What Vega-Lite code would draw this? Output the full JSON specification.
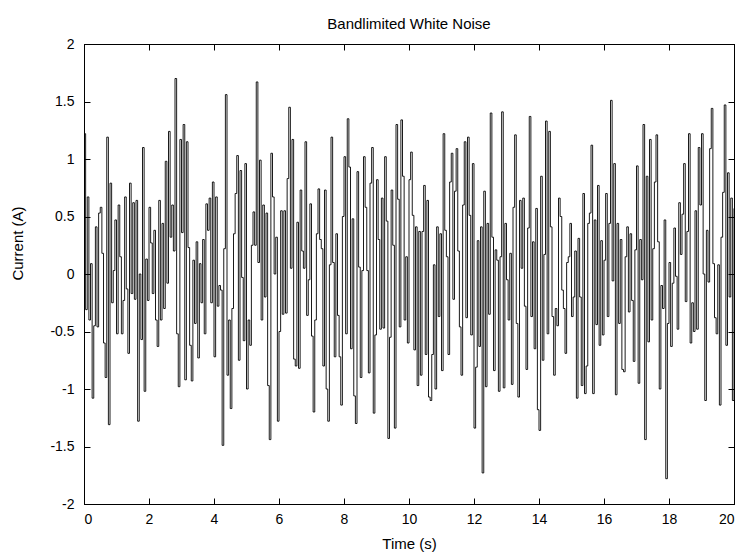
{
"$schema": "https://vega.github.io/schema/vega-lite/v6.json",
"width": 650, "height": 460,
"autosize": "none",
"padding": {"left": 84, "top": 44, "right": 10, "bottom": 48},
"background": "white",
"config": {
  "view": {"stroke": "black", "strokeWidth": 1},
  "font": "Liberation Sans",
  "axis": {"domainColor": "black", "tickColor": "black", "labelColor": "black", "titleColor": "black", "grid": false, "labelFont": "Liberation Sans", "titleFont": "Liberation Sans", "labelFontSize": 14, "titleFontSize": 15, "titleFontWeight": "normal", "tickSize": -6, "domainWidth": 1, "tickWidth": 1}
},
"title": {"text": "Bandlimited White Noise", "font": "Liberation Sans", "fontSize": 15, "fontWeight": "normal", "color": "black", "anchor": "middle", "offset": 15, "dy": 22, "baseline": "alphabetic"},
"data": {"values": [
{"t":0,"v":1.22},{"t":0.05,"v":-0.31},{"t":0.1,"v":0.67},{"t":0.15,"v":-0.40},{"t":0.2,"v":0.09},{"t":0.25,"v":-1.08},{"t":0.3,"v":-0.45},{"t":0.35,"v":0.41},{"t":0.4,"v":-0.46},{"t":0.45,"v":0.53},
{"t":0.5,"v":0.58},{"t":0.55,"v":0.18},{"t":0.6,"v":-0.60},{"t":0.65,"v":-0.90},{"t":0.7,"v":1.19},{"t":0.75,"v":-1.31},{"t":0.8,"v":0.79},{"t":0.85,"v":-0.25},{"t":0.9,"v":0.03},{"t":0.95,"v":0.47},
{"t":1,"v":-0.52},{"t":1.05,"v":0.60},{"t":1.1,"v":0.15},{"t":1.15,"v":-0.52},{"t":1.2,"v":-0.23},{"t":1.25,"v":0.67},{"t":1.3,"v":-0.13},{"t":1.35,"v":-0.69},{"t":1.4,"v":0.79},{"t":1.45,"v":-0.17},
{"t":1.5,"v":0.62},{"t":1.55,"v":-0.22},{"t":1.6,"v":0.64},{"t":1.65,"v":-1.28},{"t":1.7,"v":0.00},{"t":1.75,"v":-0.57},{"t":1.8,"v":1.10},{"t":1.85,"v":-1.02},{"t":1.9,"v":0.13},{"t":1.95,"v":-0.23},
{"t":2,"v":0.58},{"t":2.05,"v":0.27},{"t":2.1,"v":-0.17},{"t":2.15,"v":0.38},{"t":2.2,"v":-0.40},{"t":2.25,"v":-0.63},{"t":2.3,"v":0.64},{"t":2.35,"v":-0.40},{"t":2.4,"v":0.44},{"t":2.45,"v":-0.30},
{"t":2.5,"v":0.98},{"t":2.55,"v":-0.08},{"t":2.6,"v":1.24},{"t":2.65,"v":0.32},{"t":2.7,"v":0.60},{"t":2.75,"v":0.20},{"t":2.8,"v":1.70},{"t":2.85,"v":-0.52},{"t":2.9,"v":-0.98},{"t":2.95,"v":1.17},
{"t":3,"v":0.36},{"t":3.05,"v":1.30},{"t":3.1,"v":-0.92},{"t":3.15,"v":1.15},{"t":3.2,"v":0.23},{"t":3.25,"v":-0.62},{"t":3.3,"v":-0.93},{"t":3.35,"v":0.12},{"t":3.4,"v":-0.43},{"t":3.45,"v":0.28},
{"t":3.5,"v":-0.73},{"t":3.55,"v":0.09},{"t":3.6,"v":-0.25},{"t":3.65,"v":0.30},{"t":3.7,"v":-0.52},{"t":3.75,"v":0.61},{"t":3.8,"v":0.38},{"t":3.85,"v":0.66},{"t":3.9,"v":-0.25},{"t":3.95,"v":0.80},
{"t":4,"v":-0.72},{"t":4.05,"v":0.67},{"t":4.1,"v":-0.28},{"t":4.15,"v":-0.10},{"t":4.2,"v":-0.14},{"t":4.25,"v":-1.49},{"t":4.3,"v":0.22},{"t":4.35,"v":1.56},{"t":4.4,"v":-0.88},{"t":4.45,"v":-0.40},
{"t":4.5,"v":-1.17},{"t":4.55,"v":-0.30},{"t":4.6,"v":0.35},{"t":4.65,"v":0.70},{"t":4.7,"v":1.03},{"t":4.75,"v":-0.75},{"t":4.8,"v":0.90},{"t":4.85,"v":-0.03},{"t":4.9,"v":-0.58},{"t":4.95,"v":0.96},
{"t":5,"v":-1.00},{"t":5.05,"v":-0.40},{"t":5.1,"v":-0.62},{"t":5.15,"v":0.25},{"t":5.2,"v":0.54},{"t":5.25,"v":0.25},{"t":5.3,"v":1.67},{"t":5.35,"v":0.10},{"t":5.4,"v":0.99},{"t":5.45,"v":-0.40},
{"t":5.5,"v":0.60},{"t":5.55,"v":-0.20},{"t":5.6,"v":0.53},{"t":5.65,"v":-0.97},{"t":5.7,"v":-1.44},{"t":5.75,"v":1.05},{"t":5.8,"v":0.67},{"t":5.85,"v":0.00},{"t":5.9,"v":0.32},{"t":5.95,"v":-1.28},
{"t":6,"v":-0.50},{"t":6.05,"v":0.55},{"t":6.1,"v":-0.35},{"t":6.15,"v":0.55},{"t":6.2,"v":-0.34},{"t":6.25,"v":0.83},{"t":6.3,"v":1.45},{"t":6.35,"v":0.05},{"t":6.4,"v":1.17},{"t":6.45,"v":-0.74},
{"t":6.5,"v":-0.80},{"t":6.55,"v":0.45},{"t":6.6,"v":-0.82},{"t":6.65,"v":0.73},{"t":6.7,"v":0.20},{"t":6.75,"v":0.05},{"t":6.8,"v":1.15},{"t":6.85,"v":-0.36},{"t":6.9,"v":-0.05},{"t":6.95,"v":0.61},
{"t":7,"v":-0.54},{"t":7.05,"v":-1.20},{"t":7.1,"v":-0.40},{"t":7.15,"v":0.35},{"t":7.2,"v":0.74},{"t":7.25,"v":0.30},{"t":7.3,"v":0.22},{"t":7.35,"v":-0.80},{"t":7.4,"v":0.73},{"t":7.45,"v":-1.00},
{"t":7.5,"v":-1.28},{"t":7.55,"v":0.08},{"t":7.6,"v":1.19},{"t":7.65,"v":0.10},{"t":7.7,"v":-0.72},{"t":7.75,"v":0.35},{"t":7.8,"v":-0.36},{"t":7.85,"v":-0.72},{"t":7.9,"v":-1.14},{"t":7.95,"v":0.50},
{"t":8,"v":1.02},{"t":8.05,"v":-0.52},{"t":8.1,"v":1.35},{"t":8.15,"v":0.93},{"t":8.2,"v":-0.65},{"t":8.25,"v":0.48},{"t":8.3,"v":-1.06},{"t":8.35,"v":-1.30},{"t":8.4,"v":0.89},{"t":8.45,"v":0.06},
{"t":8.5,"v":-0.90},{"t":8.55,"v":0.03},{"t":8.6,"v":1.02},{"t":8.65,"v":0.58},{"t":8.7,"v":0.03},{"t":8.75,"v":-0.86},{"t":8.8,"v":0.79},{"t":8.85,"v":1.10},{"t":8.9,"v":-1.21},{"t":8.95,"v":-0.53},
{"t":9,"v":0.82},{"t":9.05,"v":0.30},{"t":9.1,"v":-0.48},{"t":9.15,"v":0.66},{"t":9.2,"v":-0.47},{"t":9.25,"v":1.02},{"t":9.3,"v":0.46},{"t":9.35,"v":-1.43},{"t":9.4,"v":-0.55},{"t":9.45,"v":0.73},
{"t":9.5,"v":0.25},{"t":9.55,"v":-1.34},{"t":9.6,"v":1.30},{"t":9.65,"v":0.65},{"t":9.7,"v":-0.46},{"t":9.75,"v":1.34},{"t":9.8,"v":0.85},{"t":9.85,"v":-0.40},{"t":9.9,"v":0.15},{"t":9.95,"v":-0.60},
{"t":10,"v":0.82},{"t":10.05,"v":1.06},{"t":10.1,"v":0.51},{"t":10.15,"v":-0.66},{"t":10.2,"v":0.41},{"t":10.25,"v":-0.97},{"t":10.3,"v":0.37},{"t":10.35,"v":-0.88},{"t":10.4,"v":0.37},{"t":10.45,"v":0.77},
{"t":10.5,"v":-0.70},{"t":10.55,"v":0.64},{"t":10.6,"v":-1.07},{"t":10.65,"v":-1.10},{"t":10.7,"v":-0.70},{"t":10.75,"v":0.08},{"t":10.8,"v":-1.00},{"t":10.85,"v":0.41},{"t":10.9,"v":-0.37},{"t":10.95,"v":0.35},
{"t":11,"v":-0.84},{"t":11.05,"v":1.22},{"t":11.1,"v":0.38},{"t":11.15,"v":0.15},{"t":11.2,"v":-0.70},{"t":11.25,"v":0.80},{"t":11.3,"v":1.05},{"t":11.35,"v":-0.22},{"t":11.4,"v":0.72},{"t":11.45,"v":1.09},
{"t":11.5,"v":0.20},{"t":11.55,"v":-0.46},{"t":11.6,"v":-0.88},{"t":11.65,"v":0.60},{"t":11.7,"v":1.15},{"t":11.75,"v":-0.38},{"t":11.8,"v":1.19},{"t":11.85,"v":0.51},{"t":11.9,"v":-0.53},{"t":11.95,"v":0.96},
{"t":12,"v":-1.34},{"t":12.05,"v":-0.81},{"t":12.1,"v":0.29},{"t":12.15,"v":-0.63},{"t":12.2,"v":0.41},{"t":12.25,"v":-1.73},{"t":12.3,"v":0.72},{"t":12.35,"v":-0.98},{"t":12.4,"v":0.44},{"t":12.45,"v":-0.35},
{"t":12.5,"v":1.40},{"t":12.55,"v":0.32},{"t":12.6,"v":-0.84},{"t":12.65,"v":0.21},{"t":12.7,"v":0.12},{"t":12.75,"v":-1.02},{"t":12.8,"v":0.15},{"t":12.85,"v":1.41},{"t":12.9,"v":-0.99},{"t":12.95,"v":0.44},
{"t":13,"v":-0.05},{"t":13.05,"v":-0.40},{"t":13.1,"v":0.18},{"t":13.15,"v":-0.96},{"t":13.2,"v":0.58},{"t":13.25,"v":1.21},{"t":13.3,"v":-0.43},{"t":13.35,"v":-1.07},{"t":13.4,"v":0.64},{"t":13.45,"v":0.05},
{"t":13.5,"v":0.66},{"t":13.55,"v":-0.28},{"t":13.6,"v":-0.83},{"t":13.65,"v":0.40},{"t":13.7,"v":1.37},{"t":13.75,"v":-0.37},{"t":13.8,"v":0.28},{"t":13.85,"v":-0.65},{"t":13.9,"v":0.57},{"t":13.95,"v":-1.18},
{"t":14,"v":-1.36},{"t":14.05,"v":0.85},{"t":14.1,"v":-0.75},{"t":14.15,"v":0.17},{"t":14.2,"v":1.33},{"t":14.25,"v":-0.52},{"t":14.3,"v":1.24},{"t":14.35,"v":0.41},{"t":14.4,"v":-0.37},{"t":14.45,"v":-0.88},
{"t":14.5,"v":-0.30},{"t":14.55,"v":-0.45},{"t":14.6,"v":0.66},{"t":14.65,"v":0.50},{"t":14.7,"v":-0.14},{"t":14.75,"v":-0.30},{"t":14.8,"v":-0.69},{"t":14.85,"v":0.10},{"t":14.9,"v":0.15},{"t":14.95,"v":0.44},
{"t":15,"v":-0.37},{"t":15.05,"v":-0.20},{"t":15.1,"v":0.20},{"t":15.15,"v":-1.08},{"t":15.2,"v":0.31},{"t":15.25,"v":-0.20},{"t":15.3,"v":-0.97},{"t":15.35,"v":0.70},{"t":15.4,"v":-1.04},{"t":15.45,"v":-0.80},
{"t":15.5,"v":0.44},{"t":15.55,"v":0.53},{"t":15.6,"v":1.12},{"t":15.65,"v":-1.04},{"t":15.7,"v":0.47},{"t":15.75,"v":-0.44},{"t":15.8,"v":0.77},{"t":15.85,"v":-0.62},{"t":15.9,"v":0.29},{"t":15.95,"v":-0.53},
{"t":16,"v":0.12},{"t":16.05,"v":0.70},{"t":16.1,"v":-0.37},{"t":16.15,"v":0.44},{"t":16.2,"v":1.51},{"t":16.25,"v":-0.06},{"t":16.3,"v":0.96},{"t":16.35,"v":-1.05},{"t":16.4,"v":0.44},{"t":16.45,"v":-0.43},
{"t":16.5,"v":0.30},{"t":16.55,"v":-0.83},{"t":16.6,"v":-0.85},{"t":16.65,"v":0.15},{"t":16.7,"v":0.41},{"t":16.75,"v":-0.33},{"t":16.8,"v":0.35},{"t":16.85,"v":-0.23},{"t":16.9,"v":-0.76},{"t":16.95,"v":0.21},
{"t":17,"v":0.94},{"t":17.05,"v":-0.95},{"t":17.1,"v":0.30},{"t":17.15,"v":-0.05},{"t":17.2,"v":1.30},{"t":17.25,"v":-1.44},{"t":17.3,"v":0.85},{"t":17.35,"v":-0.59},{"t":17.4,"v":1.17},{"t":17.45,"v":-0.40},
{"t":17.5,"v":0.22},{"t":17.55,"v":0.80},{"t":17.6,"v":1.21},{"t":17.65,"v":0.28},{"t":17.7,"v":-1.00},{"t":17.75,"v":-0.10},{"t":17.8,"v":-0.30},{"t":17.85,"v":0.47},{"t":17.9,"v":-1.78},{"t":17.95,"v":-0.43},
{"t":18,"v":0.10},{"t":18.05,"v":-0.63},{"t":18.1,"v":-0.08},{"t":18.15,"v":0.40},{"t":18.2,"v":-0.02},{"t":18.25,"v":-0.48},{"t":18.3,"v":0.62},{"t":18.35,"v":0.17},{"t":18.4,"v":0.52},{"t":18.45,"v":0.96},
{"t":18.5,"v":-0.24},{"t":18.55,"v":0.37},{"t":18.6,"v":1.22},{"t":18.65,"v":-0.60},{"t":18.7,"v":-0.25},{"t":18.75,"v":-0.50},{"t":18.8,"v":0.55},{"t":18.85,"v":-0.48},{"t":18.9,"v":1.10},{"t":18.95,"v":0.60},
{"t":19,"v":1.22},{"t":19.05,"v":0.00},{"t":19.1,"v":-1.10},{"t":19.15,"v":0.38},{"t":19.2,"v":-0.07},{"t":19.25,"v":1.09},{"t":19.3,"v":1.44},{"t":19.35,"v":0.09},{"t":19.4,"v":-0.38},{"t":19.45,"v":-0.52},
{"t":19.5,"v":0.08},{"t":19.55,"v":-1.14},{"t":19.6,"v":0.32},{"t":19.65,"v":0.71},{"t":19.7,"v":1.47},{"t":19.75,"v":-0.62},{"t":19.8,"v":0.88},{"t":19.85,"v":-0.20},{"t":19.9,"v":0.66},{"t":19.95,"v":-1.10},
{"t":20,"v":0.57}
]},
"layer": [
  {
    "mark": {"type": "line", "interpolate": "step-after", "color": "black", "strokeWidth": 0.9},
    "encoding": {
      "x": {"field": "t", "type": "quantitative", "scale": {"domain": [0, 20], "nice": false, "zero": false},
            "axis": {"orient": "bottom", "values": [0,2,4,6,8,10,12,14,16,18,20], "labelExpr": "datum.value + ''", "labelPadding": 14, "title": "Time (s)", "titleY": 44, "titleBaseline": "alphabetic"}},
      "y": {"field": "v", "type": "quantitative", "scale": {"domain": [-2, 2], "nice": false, "zero": false},
            "axis": {"orient": "left", "values": [-2,-1.5,-1,-0.5,0,0.5,1,1.5,2], "labelExpr": "datum.value + ''", "labelPadding": 16, "title": "Current (A)", "titleX": -62, "titleY": 199, "titleBaseline": "alphabetic"}}
    }
  },
  {
    "mark": {"type": "point", "opacity": 0},
    "encoding": {
      "x": {"field": "t", "type": "quantitative", "scale": {"domain": [0, 20], "nice": false, "zero": false},
            "axis": {"orient": "top", "values": [0,2,4,6,8,10,12,14,16,18,20], "labels": false, "title": null}},
      "y": {"field": "v", "type": "quantitative", "scale": {"domain": [-2, 2], "nice": false, "zero": false},
            "axis": {"orient": "right", "values": [-2,-1.5,-1,-0.5,0,0.5,1,1.5,2], "labels": false, "title": null}}
    }
  }
],
"resolve": {"axis": {"x": "independent", "y": "independent"}}
}
